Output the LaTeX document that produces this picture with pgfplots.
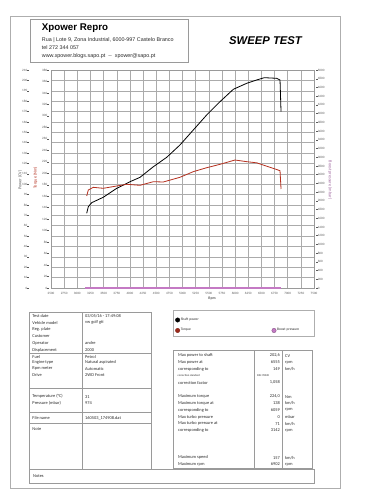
\documentclass[border=0pt]{standalone}
\usepackage{pgfplots}
\pgfplotsset{compat=1.18}
\usepackage{fontspec}
\setmainfont{Carlito}
\newfontfamily\arialf{Liberation Sans}
\definecolor{gridc}{HTML}{ABABAB}
\definecolor{tickc}{HTML}{5A5A5A}
\definecolor{framec}{HTML}{9A9A9A}
\definecolor{torquec}{HTML}{B5301F}
\definecolor{boostc}{HTML}{C47AC4}
\definecolor{txtc}{HTML}{2A2A2A}
\newcommand{\tf}{\fontsize{3.3}{3.6}\selectfont}
\newcommand{\tabf}{\fontsize{4.4}{5}\selectfont}
\newcommand{\dash}{\rule[0.95bp]{1.6bp}{0.3bp}}
\newcommand{\lrow}[3]{\node[anchor=west,inner sep=0pt,font=\tabf,text=txtc] at (32.3,#1) {#2};
  \node[anchor=west,inner sep=0pt,font=\tabf,text=txtc] at (85,#1) {#3};}
\newcommand{\rrow}[4]{\node[anchor=west,inner sep=0pt,font=\tabf,text=txtc] at (178,#1) {#2};
  \node[anchor=east,inner sep=0pt,font=\tabf,text=txtc] at (280,#1) {#3};
  \node[anchor=west,inner sep=0pt,font=\tabf,text=txtc] at (285,#1) {#4};}
\begin{document}
\begin{tikzpicture}
\begin{scope}[x=1bp,y=-1bp]
\fill[white] (0,0) rectangle (354,500);
\draw[framec!80, line width=0.6bp] (10,16) rectangle (340,488);
% header
\draw[framec, line width=0.6bp] (30.7,19.5) rectangle (188.5,62.7);
\node[anchor=base west, inner sep=0pt, font=\arialf\bfseries\fontsize{9.8}{11}\selectfont] at (41.7,31) {Xpower Repro};
\node[anchor=west, inner sep=0pt, font=\arialf\fontsize{5.4}{6}\selectfont, text=txtc] at (41.7,40) {Rua | Lote 9, Zona Industrial, 6000-997 Castelo Branco};
\node[anchor=west, inner sep=0pt, font=\arialf\fontsize{5.4}{6}\selectfont, text=txtc] at (41.7,47.8) {tel 272 344 057};
\node[anchor=west, inner sep=0pt, font=\arialf\fontsize{5.4}{6}\selectfont, text=txtc] at (41.7,56) {www.xpower.blogs.sapo.pt~~--~~xpower@sapo.pt};
\node[inner sep=0pt, font=\arialf\bfseries\itshape\fontsize{11.3}{12}\selectfont] at (265.5,41) {SWEEP TEST};
\end{scope}

\begin{axis}[
  at={(51bp,-288bp)}, anchor=south west, scale only axis,
  width=263bp, height=218bp,
  xmin=2500, xmax=7500, ymin=0, ymax=210,
  xtick={2500,2750,...,7500}, ytick={0,10,...,210},
  grid=major, major grid style={gridc, line width=0.5bp},
  axis line style={framec, line width=0.6bp},
  major tick length=0pt,
  scaled ticks=false,
  /pgf/number format/1000 sep={},
  /pgf/number format/assume math mode=true,
  xticklabel style={font=\tf, text=tickc, inner sep=0pt, yshift=-4bp},
  yticklabel style={font=\tf, text=tickc, anchor=east, inner sep=0pt, xshift=-22bp},
  yticklabel={\pgfmathprintnumber{\tick}\dash},
]
\addplot[black, line width=0.8bp] coordinates {
(3179,72.0) (3209,78.3) (3274,82.2) (3494,87.4) (3749,96.0) (4002,102.4)
(4192,106.6) (4445,116.8) (4700,125.9) (4952,137.8) (5205,152.2) (5460,166.7)
(5713,179.5) (5966,191.4) (6221,197.2) (6411,200.4) (6555,202.6) (6791,202.0)
(6854,200.4) (6873,169.8)};
\end{axis}

\begin{axis}[
  at={(51bp,-288bp)}, anchor=south west, scale only axis,
  width=263bp, height=218bp,
  xmin=2500, xmax=7500, ymin=0, ymax=380,
  hide x axis, axis y line*=left,
  ytick={0,20,...,380},
  axis line style={framec, line width=0.6bp},
  major tick length=0pt,
  scaled ticks=false,
  /pgf/number format/1000 sep={},
  /pgf/number format/assume math mode=true,
  yticklabel style={font=\tf, text=tickc, anchor=east, inner sep=0pt, xshift=-2bp},
  yticklabel={\pgfmathprintnumber{\tick}\dash},
]
\addplot[torquec, line width=0.8bp] coordinates {
(3179,160.4) (3209,170.8) (3304,175.5) (3494,173.8) (3749,177.8) (3939,180.8)
(4192,179.0) (4445,185.3) (4635,184.8) (4952,193.0) (5205,202.8) (5460,209.7)
(5713,215.6) (5998,223.1) (6221,220.2) (6411,218.2) (6664,210.4) (6854,204.5)
(6873,172.6)};
\end{axis}

\begin{axis}[
  at={(51bp,-288bp)}, anchor=south west, scale only axis,
  width=263bp, height=218bp,
  xmin=2500, xmax=7500, ymin=0, ymax=5000,
  hide x axis, axis y line*=right,
  ytick={0,200,...,5000},
  axis line style={framec, line width=0.6bp},
  major tick length=0pt,
  scaled ticks=false,
  /pgf/number format/1000 sep={},
  /pgf/number format/assume math mode=true,
  yticklabel style={font=\tf, text=tickc, anchor=west, inner sep=0pt, xshift=2bp},
  yticklabel={\dash\pgfmathprintnumber{\tick}},
  legend columns=2,
  legend style={at={(0.4715,-0.133)}, anchor=north west, draw=none, fill=none,
    font=\fontsize{3.6}{4}\selectfont, inner sep=0pt,
    nodes={text width=90bp, inner sep=0.8bp, text=txtc},
    row sep=5bp},
  legend image code/.code={\filldraw[line width=0.4bp,#1] (2.2bp,0bp) circle (2.2bp);},
]
\addplot[boostc, line width=1.1bp, forget plot] coordinates {(3142,0) (6873,0)};
\addlegendimage{draw=black, fill=black}
\addlegendentry{Shaft power}
\addlegendimage{empty legend}
\addlegendentry{}
\addlegendimage{draw=torquec!70!black, fill=torquec!85!black}
\addlegendentry{Torque}
\addlegendimage{draw=boostc!70!black, fill=boostc}
\addlegendentry{Boost pressure}
\end{axis}

\begin{scope}[x=1bp,y=-1bp]
\node[rotate=90, inner sep=0pt, font=\fontsize{4.3}{5}\selectfont, text=tickc] at (20,180) {Power (CV)};
\node[rotate=90, inner sep=0pt, font=\fontsize{4.3}{5}\selectfont, text=torquec] at (35.5,178) {Torque (Nm)};
\node[rotate=-90, inner sep=0pt, font=\fontsize{4.3}{5}\selectfont, text=boostc!80!black] at (330,180) {Boost pressure (mbar)};
\node[inner sep=0pt, font=\bfseries\fontsize{3.8}{4}\selectfont, text=tickc] at (212,299) {Rpm};
% legend frame
\draw[framec!80, line width=0.6bp] (173,310) rectangle (314,336);
% left table
\draw[framec, line width=0.7bp] (29,312) rectangle (151,469);
\draw[framec, line width=0.7bp] (82,312) -- (82,469);
\foreach \yy in {353.5,388,412,423} \draw[framec, line width=0.7bp] (29,\yy) -- (151,\yy);
\lrow{315.7}{Test date}{03/05/16 - 17:49:08}
\lrow{322.6}{Vehicle model}{vw golf gti}
\lrow{329.5}{Reg. plate}{}
\lrow{336.4}{Customer}{}
\lrow{343.3}{Operator}{andre}
\lrow{350.2}{Displacement}{2000}
\lrow{356.5}{Fuel}{Petrol}
\lrow{362.6}{Engine type}{Natural aspirated}
\lrow{368.7}{Rpm meter}{Automatic}
\lrow{374.8}{Drive}{2WD Front}
\lrow{396.7}{Temperature (°C)}{31}
\lrow{403.3}{Pressure (mbar)}{974}
\lrow{418}{File name}{160503\_174908.dat}
\lrow{429}{Note}{}
% right table
\draw[framec, line width=0.7bp] (173,350) rectangle (312,468);
\draw[framec, line width=0.7bp] (254,350) -- (254,468);
\draw[framec, line width=0.7bp] (282,350) -- (282,468);
\rrow{355.7}{Max power to shaft}{202,6}{CV}
\rrow{362.4}{Max power at}{6555}{rpm}
\rrow{369.2}{corresponding to}{149}{km/h}
\node[anchor=west,inner sep=0pt,font=\fontsize{2.8}{3}\selectfont,text=txtc] at (177.5,375.9) {correction standard};
\node[anchor=west,inner sep=0pt,font=\fontsize{2.8}{3}\selectfont,text=txtc] at (257,375.9) {DIN 70020};
\rrow{382.7}{correction factor}{1,058}{}
\rrow{396.7}{Maximum torque}{224,0}{Nm}
\rrow{403.4}{Maximum torque at}{138}{km/h}
\rrow{410.2}{corresponding to}{6059}{rpm}
\rrow{416.9}{Max turbo pressure}{0}{mbar}
\rrow{423.7}{Max turbo pressure at}{71}{km/h}
\rrow{430.4}{corresponding to}{3142}{rpm}
\rrow{457.7}{Maximum speed}{157}{km/h}
\rrow{464.4}{Maximum rpm}{6902}{rpm}
% notes box
\draw[framec, line width=0.7bp] (29,469) rectangle (314,483);
\node[anchor=west,inner sep=0pt,font=\tabf,text=txtc] at (33,476.3) {Notes};
\end{scope}
\end{tikzpicture}
\end{document}
